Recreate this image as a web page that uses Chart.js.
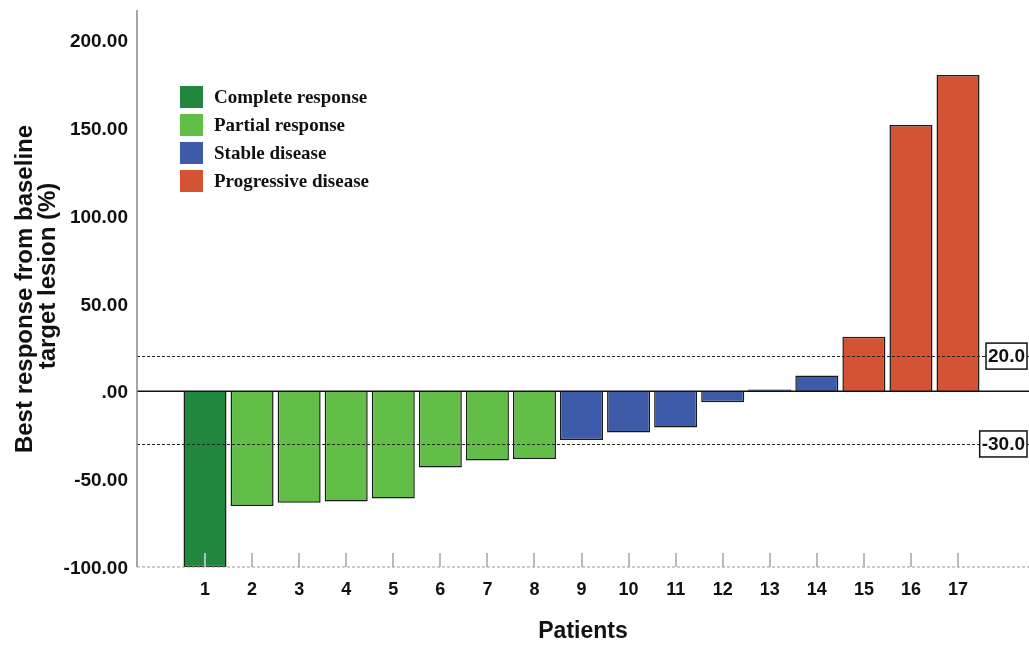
<!DOCTYPE html>
<html><head><meta charset="utf-8">
<script src="https://cdn.jsdelivr.net/npm/chart.js@4.4.0/dist/chart.umd.min.js"></script>
<style>html,body{margin:0;padding:0;background:#fff;} #wrap{width:1029px;height:646px;position:relative;}</style>
</head><body><div id="wrap"><canvas id="c" width="1029" height="646"></canvas></div>
<script>
// ---- data ----
const patients = [1,2,3,4,5,6,7,8,9,10,11,12,13,14,15,16,17];
const responses = [-100, -65.3, -63.5, -62.7, -61, -43.4, -39.4, -38.5, -27.7, -23.5, -20.6, -6.2, 1, 9, 31, 151.5, 180];
const groups = [0,1,1,1,1,1,1,1,2,2,2,2,2,2,3,3,3];
const groupLabels = ['Complete response','Partial response','Stable disease','Progressive disease'];
const groupColors = ['#21873E','#63BE48','#3E5BA9','#D45334'];
const yTicks = [-100,-50,0,50,100,150,200];
const refLines = [20, -30];
const refLabels = ['20.0','-30.0'];
const yTitle = ['Best response from baseline','target lesion (%)'];
const xTitle = 'Patients';

const datasets = groupLabels.map((lab, g) => ({
  label: lab,
  data: patients.map((p, i) => groups[i] === g ? {x: p, y: responses[i]} : null).filter(d => d),
  backgroundColor: groupColors[g],
  borderColor: '#1a1a1a',
  borderWidth: 1.5,
  grouped: false,
  barPercentage: 0.914,
  categoryPercentage: 1.0
}));

const deco = {
  id: 'deco',
  afterDatasetsDraw(chart) {
    const ctx = chart.ctx, ys = chart.scales.y, xs = chart.scales.x, a = chart.chartArea;
    const L = a.left, R = chart.width;
    ctx.save();
    // minor tick marks on bottom
    ctx.strokeStyle = '#bbb'; ctx.lineWidth = 2;
    const yb = ys.getPixelForValue(-100);
    patients.forEach(p => {
      const x = Math.round(xs.getPixelForValue(p));
      ctx.beginPath(); ctx.moveTo(x, yb); ctx.lineTo(x, yb - 14); ctx.stroke();
    });
    // bottom dashed gray line
    ctx.strokeStyle = '#999'; ctx.lineWidth = 1.2; ctx.setLineDash([3,2]);
    ctx.beginPath(); ctx.moveTo(L, yb); ctx.lineTo(R, yb); ctx.stroke();
    // reference dashed lines
    ctx.strokeStyle = '#222'; ctx.lineWidth = 1;
    refLines.forEach(v => {
      const y = Math.round(ys.getPixelForValue(v)) + 0.5;
      ctx.beginPath(); ctx.moveTo(L, y); ctx.lineTo(R, y); ctx.stroke();
    });
    ctx.setLineDash([]);
    // zero line
    ctx.strokeStyle = '#111'; ctx.lineWidth = 1.5;
    const y0 = ys.getPixelForValue(0);
    ctx.beginPath(); ctx.moveTo(L, y0); ctx.lineTo(R, y0); ctx.stroke();
    // left axis line
    ctx.strokeStyle = '#888'; ctx.lineWidth = 1.5;
    ctx.beginPath(); ctx.moveTo(L, 10); ctx.lineTo(L, yb); ctx.stroke();
    // ref labels
    ctx.font = 'bold 19px Arial, "Liberation Sans", sans-serif';
    ctx.textBaseline = 'middle'; ctx.textAlign = 'left';
    refLines.forEach((v, i) => {
      const y = ys.getPixelForValue(v);
      const w = ctx.measureText(refLabels[i]).width + 4;
      const bx = 1027 - w, by = y - 13;
      ctx.fillStyle = '#fff'; ctx.fillRect(bx, by, w, 26);
      ctx.strokeStyle = '#111'; ctx.lineWidth = 1.5; ctx.strokeRect(bx, by, w, 26);
      ctx.fillStyle = '#111'; ctx.fillText(refLabels[i], bx + 2, y + 1);
    });
    ctx.restore();
  },
  afterDraw(chart) {
    const ctx = chart.ctx, a = chart.chartArea;
    ctx.save();
    // legend
    ctx.font = 'bold 19px "Liberation Serif", "Times New Roman", serif';
    ctx.textBaseline = 'middle'; ctx.textAlign = 'left';
    groupLabels.forEach((lab, i) => {
      const cy = 97 + i * 28;
      ctx.fillStyle = groupColors[i];
      ctx.fillRect(180, cy - 11, 23, 22);
      ctx.fillStyle = '#111';
      ctx.fillText(lab, 214, cy + 1);
    });
    // y title
    ctx.font = 'bold 24px Arial, "Liberation Sans", sans-serif';
    ctx.textAlign = 'center'; ctx.textBaseline = 'alphabetic';
    ctx.fillStyle = '#111';
    [[32, 289], [55, 276]].forEach(([x, cy], i) => {
      ctx.save(); ctx.translate(x, cy); ctx.rotate(-Math.PI/2);
      ctx.fillText(yTitle[i], 0, 0); ctx.restore();
    });
    // x title
    ctx.font = 'bold 23px Arial, "Liberation Sans", sans-serif';
    ctx.textBaseline = 'middle';
    ctx.fillText(xTitle, (a.left + chart.width) / 2, 632);
    ctx.restore();
  }
};

new Chart(document.getElementById('c'), {
  type: 'bar',
  data: { datasets },
  options: {
    responsive: false, animation: false, devicePixelRatio: 1,
    layout: { padding: { top: 0, right: 0, left: 0, bottom: 0 } },
    plugins: { legend: { display: false }, tooltip: { enabled: false } },
    scales: {
      x: {
        type: 'linear', min: -0.445, max: 18.508, offset: false,
        afterBuildTicks: s => { s.ticks = patients.map(v => ({ value: v })); },
        afterFit: s => { s.height = 79; },
        grid: { display: false, drawTicks: false, offset: false },
        border: { display: false },
        ticks: { autoSkip: false, maxRotation: 0, padding: 12, color: '#111',
                 font: { family: 'Arial, "Liberation Sans", sans-serif', size: 18, weight: 'bold' } }
      },
      y: {
        min: -100, max: 211,
        afterBuildTicks: s => { s.ticks = yTicks.map(v => ({ value: v })); },
        afterFit: s => { s.width = 137; },
        grid: { display: false, drawTicks: false },
        border: { display: false },
        ticks: { padding: 9, color: '#111', labelOffset: 2,
                 callback: v => v === 0 ? '.00' : Number(v).toFixed(2),
                 font: { family: 'Arial, "Liberation Sans", sans-serif', size: 19, weight: 'bold' } }
      }
    }
  },
  plugins: [deco]
});
</script></body></html>
